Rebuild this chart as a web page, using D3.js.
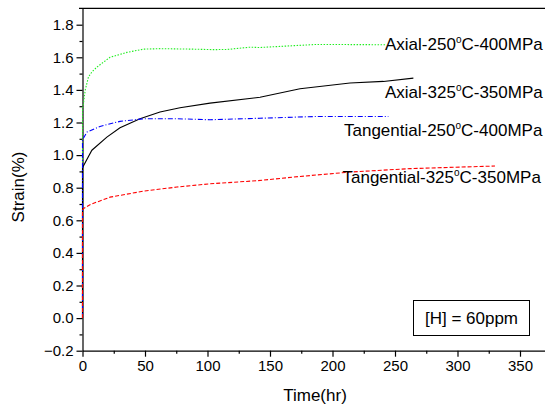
<!DOCTYPE html>
<html>
<head>
<meta charset="utf-8">
<script src="https://cdn.jsdelivr.net/npm/d3@7"></script>
<style>
	body { margin: 0; background: #fff; }
	svg { display: block; font-family: Arial, "Liberation Sans", sans-serif; }
	.tick text { font-size: 15px; fill: #000; }
	.lbl { font-size: 17px; fill: #000; }
</style>
</head>
<body>
<script>
	//series: time in hr, strain in %
	var axial250T = [0, 0, 0.5, 2.2, 4.8, 7.5, 11.5, 22, 35.5, 48.8, 62, 88.5, 104.5, 115.5, 134, 142, 187, 243];
	var axial250S = [0, 1.29, 1.30, 1.40, 1.48, 1.51, 1.54, 1.60, 1.63, 1.65, 1.653, 1.65, 1.647, 1.648, 1.662, 1.66, 1.679, 1.677];

	var axial325T = [0, 0, 0.5, 7.5, 19.5, 30, 46, 62, 78, 102, 142, 174, 214, 240.7, 264.7];
	var axial325S = [0, 0.92, 0.93, 1.03, 1.11, 1.168, 1.223, 1.264, 1.291, 1.319, 1.355, 1.407, 1.442, 1.452, 1.472];

	var tang250T = [0, 0, 0.5, 3.5, 14, 30, 49, 75.5, 102, 142, 187, 244.7];
	var tang250S = [0, 1.09, 1.10, 1.141, 1.176, 1.207, 1.223, 1.223, 1.217, 1.226, 1.237, 1.237];

	var tang325T = [0, 0, 0.5, 6, 22, 49, 75.5, 102, 140, 174, 214, 262, 330];
	var tang325S = [0, 0.66, 0.671, 0.696, 0.742, 0.779, 0.804, 0.824, 0.843, 0.869, 0.896, 0.917, 0.933];

	var seriesNames = ['Axial-250', 'Axial-325', 'Tangential-250', 'Tangential-325'];
	var seriesTail = ['C-400MPa', 'C-350MPa', 'C-400MPa', 'C-350MPa'];
	var xTicks = [0, 50, 100, 150, 200, 250, 300, 350];
	var yTicks = [-0.2, 0.0, 0.2, 0.4, 0.6, 0.8, 1.0, 1.2, 1.4, 1.6, 1.8];
	var noteText = '[H] = 60ppm';

window.onload = drawChart();

function drawChart() {
	var width = 545,
		height = 409;

	var svg = d3.select("body")
		.append("svg")
		.attr("width", width)
		.attr("height", height);

	var x = d3.scaleLinear().domain([0, 370]).range([82.5, 545]);
	var y = d3.scaleLinear().domain([-0.2, 1.9]).range([350.7, 8.4]);

	//frame top line
	svg.append("line")
		.attr("x1", 79).attr("x2", width)
		.attr("y1", y(1.9)).attr("y2", y(1.9))
		.attr("stroke", "#000").attr("stroke-width", 1.2);

	//minor ticks first so major ones sit on top
	svg.append("g")
		.attr("transform", "translate(0," + y(-0.2) + ")")
		.call(d3.axisBottom(x).tickValues(d3.range(25, 370, 50)).tickSize(3).tickFormat(""))
		.call(function(g){ g.select(".domain").remove(); });
	svg.append("g")
		.attr("transform", "translate(" + x(0) + ",0)")
		.call(d3.axisLeft(y).tickValues(d3.range(-0.1, 1.9, 0.2)).tickSize(3).tickFormat(""))
		.call(function(g){ g.select(".domain").remove(); });

	var xAxis = svg.append("g")
		.attr("transform", "translate(0," + y(-0.2) + ")")
		.call(d3.axisBottom(x).tickValues(xTicks).tickSize(6).tickSizeOuter(0).tickPadding(4));
	var yAxis = svg.append("g")
		.attr("transform", "translate(" + x(0) + ",0)")
		.call(d3.axisLeft(y).tickValues(yTicks).tickSize(6).tickSizeOuter(0).tickPadding(3)
			.tickFormat(d3.format(".1f")));

	svg.selectAll(".domain, .tick line").attr("stroke", "#000").attr("stroke-width", 1.2);

	//axis titles
	svg.append("text")
		.attr("class", "lbl")
		.attr("x", 315).attr("y", 401)
		.attr("text-anchor", "middle")
		.text("Time(hr)");
	svg.append("text")
		.attr("class", "lbl")
		.attr("transform", "translate(24,187) rotate(-90)")
		.attr("text-anchor", "middle")
		.text("Strain(%)");

	var line = d3.line()
		.x(function(d){ return x(d[0]); })
		.y(function(d){ return y(d[1]); });

	var series = [
		{t: axial250T, s: axial250S, color: "#22ee22", dash: "1.5,1.5"},
		{t: axial325T, s: axial325S, color: "#000000", dash: null},
		{t: tang250T, s: tang250S, color: "#0000ff", dash: "5,2,1,2"},
		{t: tang325T, s: tang325S, color: "#ff0000", dash: "4,2"}
	];

	svg.selectAll(".series")
		.data(series)
		.enter()
		.append("path")
		.attr("class", "series")
		.attr("fill", "none")
		.attr("stroke", function(d){ return d.color; })
		.attr("stroke-width", 1.1)
		.attr("stroke-dasharray", function(d){ return d.dash; })
		.attr("d", function(d){ return line(d.t.map(function(t, i){ return [t, d.s[i]]; })); });

	//curve labels
	var labelPos = [[385, 50], [385, 97.5], [344, 136], [342.5, 182.5]];
	seriesNames.forEach(function(name, i){
		var txt = svg.append("text")
			.attr("class", "lbl")
			.attr("x", labelPos[i][0])
			.attr("y", labelPos[i][1]);
		txt.append("tspan").text(name);
		txt.append("tspan").attr("font-size", "10px").attr("dy", -7).text("o");
		txt.append("tspan").attr("dy", 7).text(seriesTail[i]);
	});

	//note box
	svg.append("rect")
		.attr("x", 413.5).attr("y", 300.5)
		.attr("width", 116).attr("height", 35)
		.attr("fill", "#fff")
		.attr("stroke", "#000").attr("stroke-width", 1);
	svg.append("text")
		.attr("class", "lbl")
		.attr("x", 471.5).attr("y", 324)
		.attr("text-anchor", "middle")
		.text(noteText);
}
</script>
</body>
</html>
